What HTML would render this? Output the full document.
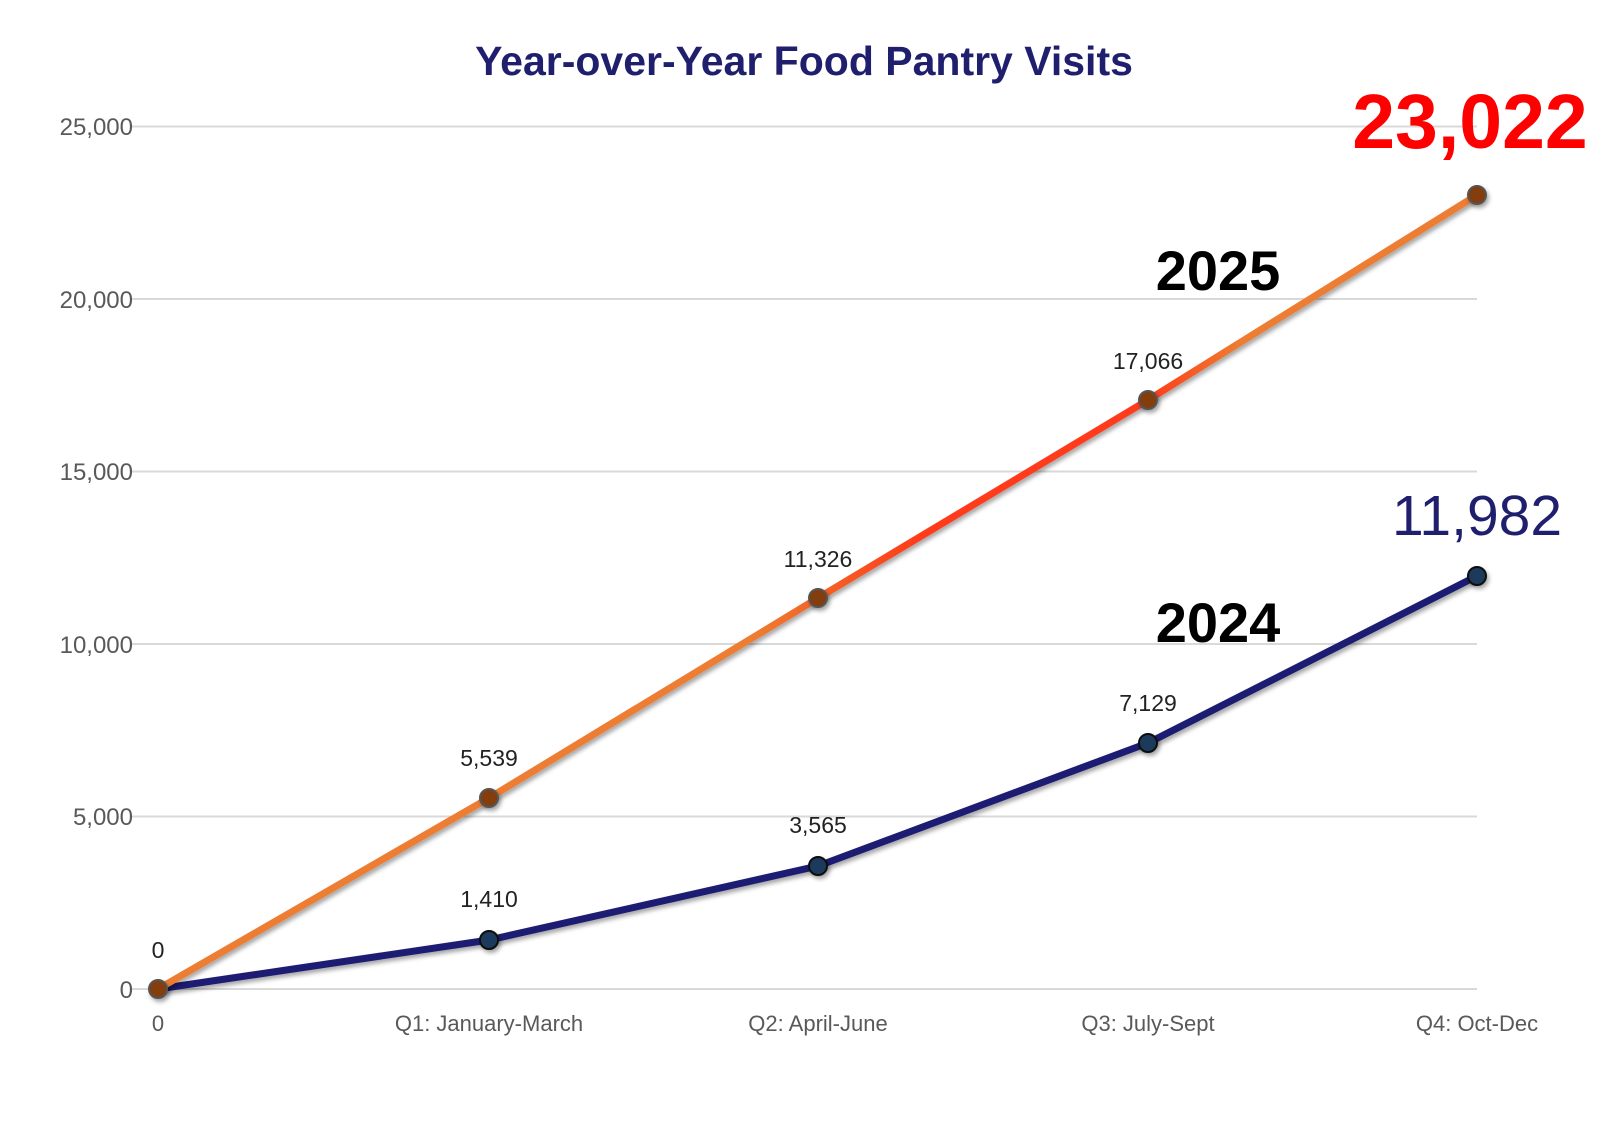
<!DOCTYPE html><html><head><style>body{margin:0;background:#fff}</style></head><body>
<svg width="1600" height="1143" xmlns="http://www.w3.org/2000/svg" font-family="Liberation Sans, sans-serif">
<defs>
<linearGradient id="g" gradientUnits="userSpaceOnUse" x1="158" y1="0" x2="1477" y2="0">
<stop offset="0" stop-color="#ed7d31"/><stop offset="0.45" stop-color="#ed7d31"/><stop offset="0.58" stop-color="#ff3a1a"/><stop offset="0.75" stop-color="#ff3a1a"/><stop offset="0.82" stop-color="#ed7d31"/><stop offset="1" stop-color="#ed7d31"/></linearGradient>
<filter id="s"><feDropShadow dx="2" dy="3" stdDeviation="2" flood-opacity="0.35"/></filter>
</defs>
<text x="804" y="75" text-anchor="middle" font-size="41" font-weight="bold" fill="#1f1f6e">Year-over-Year Food Pantry Visits</text>
<g stroke="#d9d9d9" stroke-width="2">
<line x1="131" y1="126.5" x2="1477" y2="126.5"/><line x1="131" y1="299" x2="1477" y2="299"/><line x1="131" y1="471.5" x2="1477" y2="471.5"/><line x1="131" y1="644" x2="1477" y2="644"/><line x1="131" y1="816.5" x2="1477" y2="816.5"/><line x1="131" y1="989" x2="1477" y2="989"/></g>
<g font-size="24" fill="#595959" text-anchor="end">
<text x="133" y="135">25,000</text><text x="133" y="308">20,000</text><text x="133" y="480">15,000</text><text x="133" y="653">10,000</text><text x="133" y="825">5,000</text><text x="133" y="998">0</text></g>
<g font-size="22" fill="#595959" text-anchor="middle">
<text x="158" y="1031">0</text><text x="489" y="1031">Q1: January-March</text><text x="818" y="1031">Q2: April-June</text><text x="1148" y="1031">Q3: July-Sept</text><text x="1477" y="1031">Q4: Oct-Dec</text></g>
<polyline points="158,989 489,940 818,866 1148,743 1477,576" fill="none" stroke="#1c1c72" stroke-width="7" filter="url(#s)"/>
<polyline points="158,989 489,798 818,598 1148,400 1477,195" fill="none" stroke="url(#g)" stroke-width="7" filter="url(#s)"/>
<g stroke="#111" stroke-width="2" fill="#1b3a5c" filter="url(#s)">
<circle cx="489" cy="940" r="9"/><circle cx="818" cy="866" r="9"/><circle cx="1148" cy="743" r="9"/><circle cx="1477" cy="576" r="9"/></g>
<g stroke="#555" stroke-width="2" fill="#843c0c" filter="url(#s)">
<circle cx="158" cy="989" r="9"/><circle cx="489" cy="798" r="9"/><circle cx="818" cy="598" r="9"/><circle cx="1148" cy="400" r="9"/><circle cx="1477" cy="195" r="9"/></g>
<g font-size="23" fill="#222" text-anchor="middle">
<text x="158" y="958">0</text>
<text x="489" y="766">5,539</text><text x="818" y="567">11,326</text><text x="1148" y="369">17,066</text>
<text x="489" y="907">1,410</text><text x="818" y="833">3,565</text><text x="1148" y="711">7,129</text></g>
<text x="1470" y="148" text-anchor="middle" font-size="77" font-weight="bold" fill="#ff0000">23,022</text>
<text x="1477" y="535" text-anchor="middle" font-size="57" fill="#1f1f6e">11,982</text>
<text x="1218" y="290" text-anchor="middle" font-size="56" font-weight="bold" fill="#000">2025</text>
<text x="1218" y="642" text-anchor="middle" font-size="56" font-weight="bold" fill="#000">2024</text>
</svg></body></html>
